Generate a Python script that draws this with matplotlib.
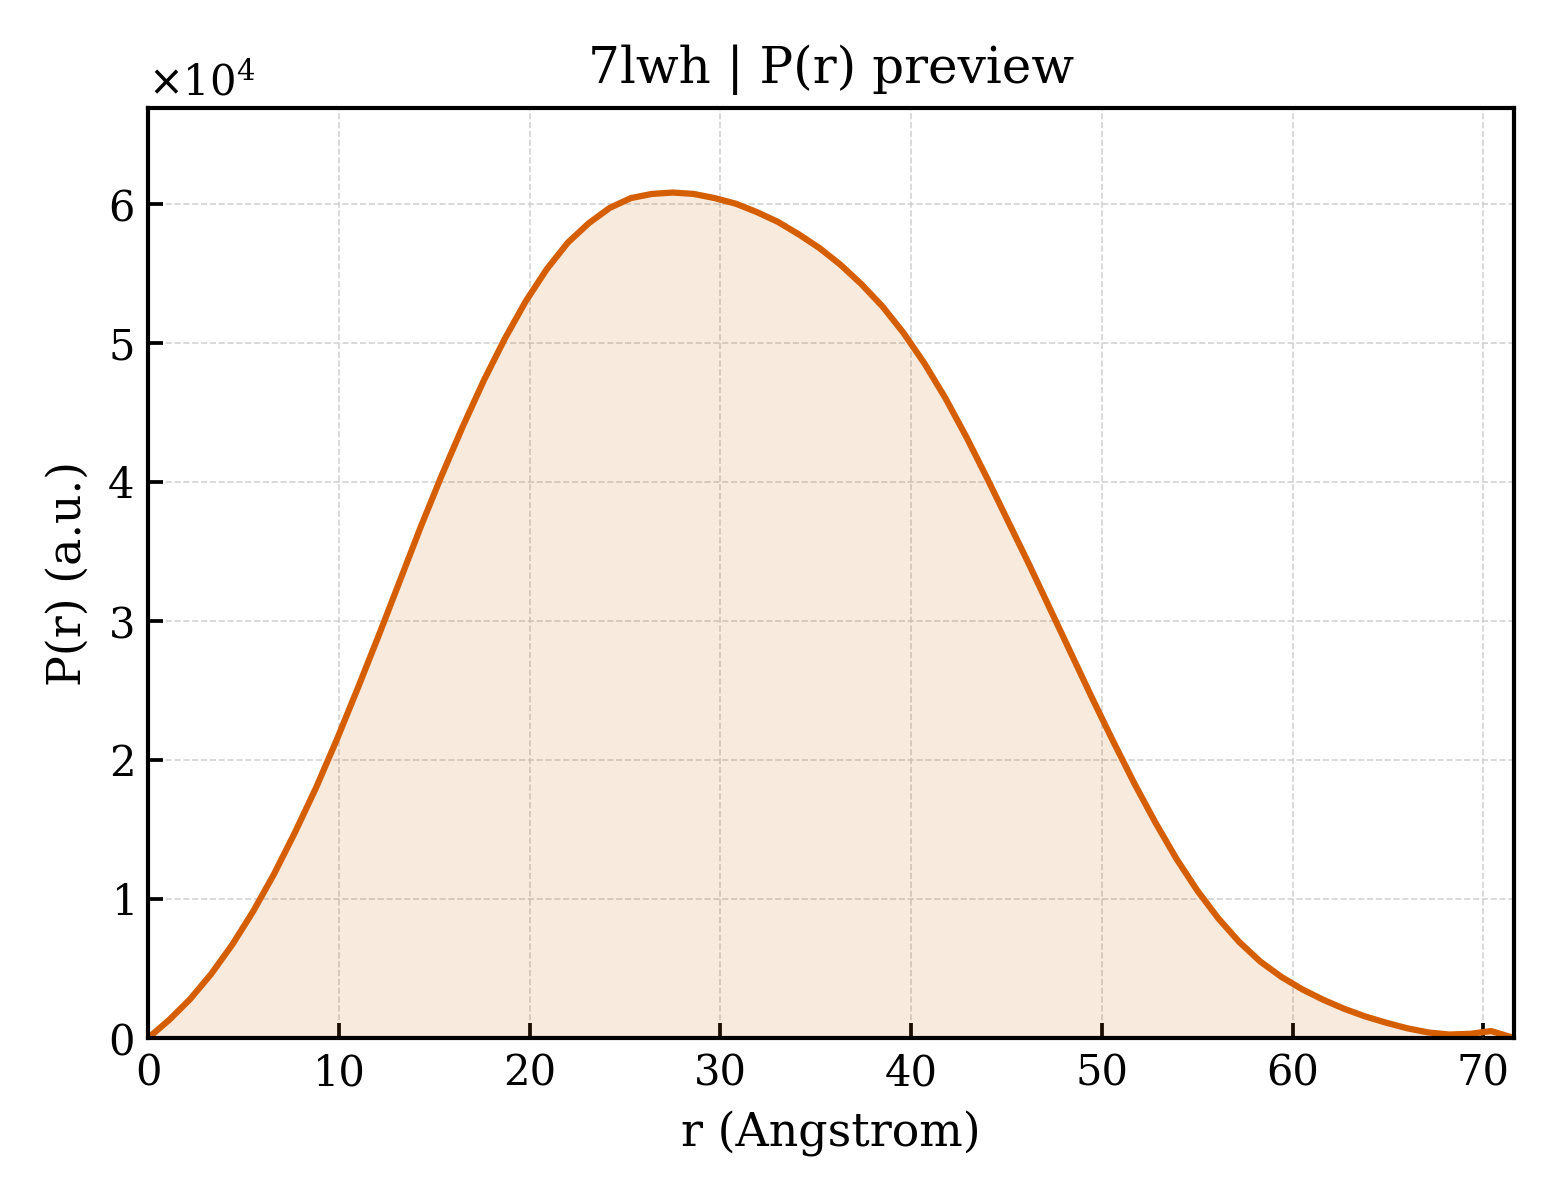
import matplotlib
matplotlib.use("Agg")
import matplotlib.pyplot as plt

# P(r) curve (r in Angstrom, P in units of 1e4)
r_values = [0.0, 1.1, 2.2, 3.3, 4.4, 5.5, 6.6, 7.7, 8.8, 9.9,
            11.0, 12.1, 13.2, 14.3, 15.4, 16.5, 17.6, 18.7, 19.8, 20.9,
            22.0, 23.1, 24.2, 25.3, 26.4, 27.5, 28.6, 29.7, 30.8, 31.9,
            33.0, 34.1, 35.2, 36.3, 37.4, 38.5, 39.6, 40.7, 41.8, 42.9,
            44.0, 45.1, 46.2, 47.3, 48.4, 49.5, 50.6, 51.7, 52.8, 53.9,
            55.0, 56.1, 57.2, 58.3, 59.4, 60.5, 61.6, 62.7, 63.8, 64.9,
            66.0, 67.1, 68.2, 69.3, 70.4, 71.6]
p_values_1e4 = [0.0, 0.13, 0.28, 0.46, 0.67, 0.91, 1.18, 1.48, 1.80, 2.15,
                2.52, 2.90, 3.29, 3.68, 4.05, 4.40, 4.73, 5.03, 5.30, 5.53,
                5.72, 5.86, 5.97, 6.04, 6.07, 6.08, 6.07, 6.04, 6.00, 5.94,
                5.87, 5.78, 5.68, 5.56, 5.42, 5.26, 5.07, 4.85, 4.60, 4.32,
                4.02, 3.71, 3.40, 3.08, 2.76, 2.44, 2.13, 1.83, 1.55, 1.29,
                1.06, 0.86, 0.69, 0.55, 0.44, 0.35, 0.275, 0.21, 0.155, 0.11,
                0.07, 0.04, 0.025, 0.03, 0.05, 0.0]
p_values = [v * 1e4 for v in p_values_1e4]

x_ticks = [0, 10, 20, 30, 40, 50, 60, 70]

line_color = "#D55E00"

plt.rcParams["font.family"] = ["DejaVu Serif"]
plt.rcParams["axes.linewidth"] = 1.0

fig, ax = plt.subplots(figsize=(5.2, 4.0), dpi=300)
fig.subplots_adjust(left=0.095, right=0.9705, bottom=0.135, top=0.91)

ax.fill_between(r_values, p_values, 0, color=line_color, alpha=0.13, linewidth=0)
ax.plot(r_values, p_values, color=line_color, linewidth=1.5)

ax.set_xlim(0, r_values[-1])
ax.set_ylim(0, max(p_values) * 1.1)
ax.set_xticks(x_ticks)

ax.ticklabel_format(axis="y", style="sci", scilimits=(0, 0), useMathText=True)
ax.yaxis.get_offset_text().set_fontsize(10)

ax.tick_params(direction="in", length=3.5, width=0.9, labelsize=10)
ax.grid(True, linestyle="--", linewidth=0.4, color="#cccccc", alpha=0.85)
ax.set_axisbelow(True)

ax.set_xlabel("r (Angstrom)", fontsize=11)
ax.set_ylabel("P(r) (a.u.)", fontsize=11)
ax.set_title("7lwh | P(r) preview", fontsize=12)

fig.savefig("out.png", dpi=300)
